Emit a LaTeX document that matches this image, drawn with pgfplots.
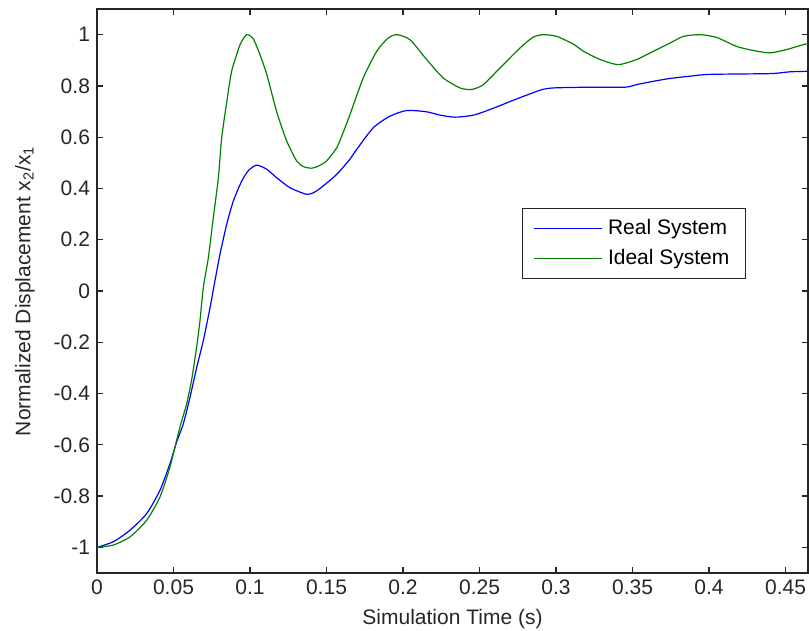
\documentclass[border=0pt]{standalone}
\usepackage{fontspec}
\setmainfont{Liberation Sans}
\usepackage{pgfplots}
\pgfplotsset{compat=1.18}
\usetikzlibrary{calc}
\definecolor{mblue}{RGB}{0,0,255}
\definecolor{mgreen}{RGB}{0,128,0}
\newcommand{\lfont}{\fontsize{10.5}{12}\selectfont}
\begin{document}
\begin{tikzpicture}
\begin{axis}[
  name=ax,
  scale only axis,
  width=355.5pt, height=282pt,
  xmin=0, xmax=0.4647, ymin=-1.1, ymax=1.1,
  xtick={0,0.05,0.1,0.15,0.2,0.25,0.3,0.35,0.4,0.45},
  ytick={-1,-0.8,-0.6,-0.4,-0.2,0,0.2,0.4,0.6,0.8,1},
  scaled x ticks=false, scaled y ticks=false,
  /pgf/number format/assume math mode=true,
  /pgf/number format/fixed, /pgf/number format/precision=2,
  tick label style={font=\lfont, black!85},
  label style={font=\lfont, black!85},
  tick align=inside, major tick length=3pt,
  tick style={black!85, line width=0.6pt},
  axis line style={black!85, line width=0.6pt},
  xlabel={Simulation Time (s)},
  ylabel={Normalized Displacement x\textsubscript{2}/x\textsubscript{1}},
  x label style={at={(axis description cs:0.5,0)}, anchor=center, yshift=-23pt},
  y label style={at={(axis description cs:-0.1013,0.5)}, anchor=center},
  legend cell align=left,
  legend style={at={(rel axis cs:0.9128,0.647)}, anchor=north east,
    draw=black!85, line width=0.6pt, font=\lfont, inner xsep=5.5pt, inner ysep=2.8pt,
    row sep=1pt,
    nodes={inner sep=2.5pt}},
  legend image code/.code={\draw[#1, line width=0.6pt] (0pt,0pt) -- (34pt,0pt);},
]
\addplot[mblue, line width=0.6pt, line join=round, smooth, tension=0.4] coordinates {
(0,-1) (0.0107,-0.978) (0.0216,-0.933) (0.0325,-0.868) (0.0412,-0.777)
(0.0477,-0.673) (0.0520,-0.590) (0.0564,-0.518) (0.0608,-0.414) (0.0652,-0.297)
(0.0695,-0.193) (0.0739,-0.064) (0.0771,0.04) (0.0804,0.144) (0.0848,0.261)
(0.0891,0.351) (0.0946,0.429) (0.0990,0.470) (0.1044,0.491) (0.1109,0.475)
(0.1174,0.442) (0.1261,0.403) (0.1370,0.377) (0.1420,0.385) (0.1479,0.410)
(0.1567,0.455) (0.1654,0.515) (0.1697,0.552) (0.1806,0.637) (0.1915,0.682)
(0.2024,0.704) (0.2154,0.699) (0.2242,0.686) (0.2340,0.678) (0.2460,0.686)
(0.2569,0.708) (0.2721,0.744) (0.2895,0.783) (0.2982,0.792) (0.3222,0.795)
(0.3451,0.795) (0.3527,0.805) (0.3636,0.818) (0.3745,0.829) (0.3876,0.838)
(0.4007,0.845) (0.4399,0.848) (0.4529,0.855) (0.4654,0.857)
};
\addlegendentry{Real System}
\addplot[mgreen, line width=0.6pt, line join=round, smooth, tension=0.4] coordinates {
(0,-1) (0.0107,-0.991) (0.0216,-0.959) (0.0325,-0.894) (0.0412,-0.803)
(0.0477,-0.686) (0.0542,-0.531) (0.0586,-0.440) (0.0619,-0.345) (0.0652,-0.215)
(0.0673,-0.116) (0.0695,0.014) (0.0728,0.131) (0.0760,0.285) (0.0793,0.440)
(0.0815,0.598) (0.0850,0.745) (0.0880,0.857) (0.0935,0.961) (0.0978,1.0)
(0.1020,0.985) (0.1065,0.922) (0.1110,0.844) (0.1174,0.70) (0.1240,0.585)
(0.1305,0.507) (0.1350,0.485) (0.1403,0.479) (0.1450,0.488) (0.1500,0.507)
(0.1567,0.559) (0.1610,0.620) (0.1654,0.689) (0.1740,0.831) (0.1828,0.935)
(0.1900,0.985) (0.1959,1.0) (0.2046,0.98) (0.2154,0.903) (0.2263,0.831)
(0.2373,0.792) (0.2449,0.786) (0.2525,0.805) (0.2634,0.87) (0.2765,0.948)
(0.2850,0.990) (0.2917,1.0) (0.3005,0.993) (0.3113,0.963) (0.3180,0.935)
(0.3288,0.903) (0.3407,0.883) (0.3527,0.903) (0.3636,0.935) (0.3745,0.967)
(0.3832,0.993) (0.3941,1.0) (0.4050,0.989) (0.4180,0.954) (0.4290,0.938)
(0.4399,0.929) (0.4508,0.942) (0.4616,0.961) (0.4654,0.966)
};
\addlegendentry{Ideal System}
\end{axis}
\pgfresetboundingbox
\useasboundingbox ($(ax.south west)+(-48.5pt,-29pt)$) rectangle ($(ax.north east)+(0.5pt,4.5pt)$);
\end{tikzpicture}
\end{document}
